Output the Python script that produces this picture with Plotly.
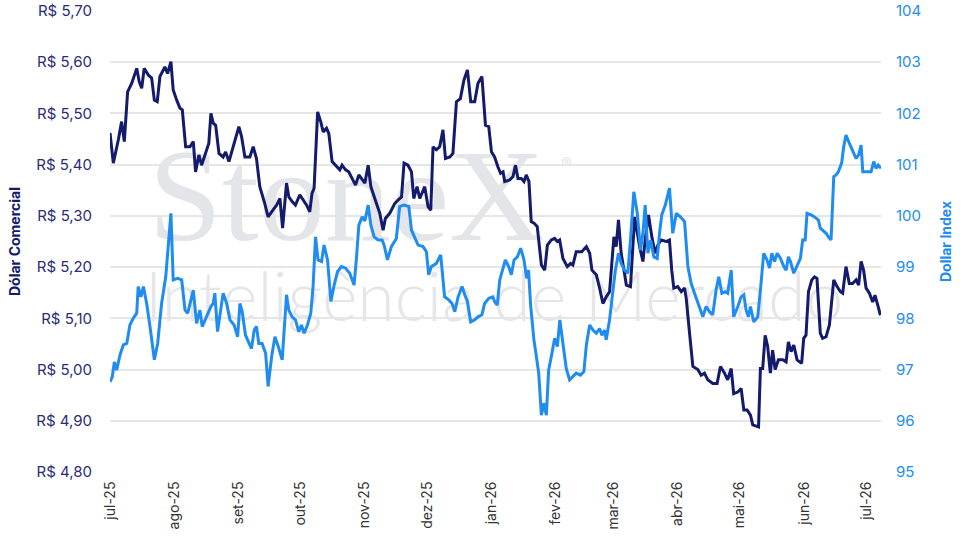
import pandas as pd
import plotly.graph_objects as go

# ---------------- data ----------------
START = "2025-07-01"

# Dólar Comercial (R$) — days since 1 Jul 2025, value
dc_days = [0, 1.6, 4.0, 5.6, 6.9, 8.5, 10.5, 12.9, 14.1, 15.3, 16.5, 18.5, 20.1, 21.4, 22.8, 24.1, 26.5, 27.8,
           29.4, 30.5, 32.2, 33.8, 34.9, 36.5, 38.6, 40.2, 41.3, 42.9, 44.2, 46.6, 47.7, 48.7, 49.8, 51.0, 52.6,
           54.6, 55.8, 57.4, 59.5, 62.2, 63.5, 65.1, 67.5, 69.1, 70.7, 72.3, 74.7, 76.3, 78.0, 80.4, 82.0, 83.3,
           85.2, 86.3, 87.9, 89.5, 91.6, 93.2, 94.9, 96.4, 97.5, 98.5, 100.2, 101.7, 102.9, 104.5, 105.6, 107.2,
           109.3, 110.9, 112.0, 113.7, 115.2, 117.3, 118.5, 120.1, 122.1, 123.0, 124.6, 125.9, 127.8, 130.2,
           131.8, 132.9, 135.0, 137.4, 139.0, 140.7, 141.9, 143.8, 145.5, 146.6, 148.2, 149.5, 151.9, 153.5,
           154.8, 155.9, 157.5, 159.1, 160.7, 161.9, 164.0, 165.5, 167.2, 169.1, 170.8, 172.5, 174.1, 176.0,
           177.6, 179.5, 181.2, 182.8, 184.1, 185.6, 187.2, 188.5, 189.7, 190.5, 192.9, 194.5, 195.7, 196.9,
           198.5, 199.8, 200.9, 202.2, 203.3, 204.9, 206.2, 208.2, 209.8, 211.1, 213.0, 214.6, 215.9, 217.0,
           218.6, 220.7, 222.3, 223.4, 225.0, 227.7, 229.9, 231.5, 232.6, 234.7, 236.3, 237.9, 239.5, 241.1,
           243.2, 244.3, 245.4, 246.7, 248.3, 249.2, 251.2, 253.2, 255.6, 257.2, 258.3, 259.9, 261.5, 263.1,
           264.4, 266.0, 268.4, 270.0, 271.1, 272.1, 274.0, 275.7, 277.3, 278.1, 279.7, 281.3, 283.7, 285.3,
           286.9, 288.5, 290.9, 293.0, 294.6, 296.6, 298.1, 299.8, 301.0, 303.0, 304.6, 305.9, 307.5, 309.1,
           310.2, 313.0, 313.9, 315.0, 316.2, 317.4, 318.7, 319.8, 321.0, 322.6, 324.7, 326.3, 327.4, 328.7,
           330.0, 331.6, 333.8, 334.8, 335.9, 337.1, 338.7, 340.0, 341.2, 342.8, 343.9, 345.6, 347.2, 349.3,
           350.9, 352.5, 353.6, 355.2, 356.8, 358.4, 360.1, 361.3, 362.5, 363.7, 364.9, 366.5, 368.1, 369.2,
           370.8, 371.8]
dc_vals = [5.462, 5.403, 5.448, 5.484, 5.445, 5.542, 5.559, 5.588, 5.562, 5.549, 5.588, 5.575, 5.569, 5.526, 5.523,
           5.572, 5.591, 5.578, 5.601, 5.546, 5.526, 5.510, 5.507, 5.435, 5.435, 5.445, 5.386, 5.419, 5.399, 5.429,
           5.442, 5.500, 5.481, 5.477, 5.422, 5.415, 5.425, 5.406, 5.438, 5.474, 5.455, 5.415, 5.415, 5.435, 5.412,
           5.357, 5.324, 5.298, 5.308, 5.321, 5.334, 5.276, 5.364, 5.337, 5.328, 5.321, 5.341, 5.331, 5.321, 5.308,
           5.344, 5.354, 5.503, 5.484, 5.464, 5.471, 5.461, 5.406, 5.396, 5.390, 5.399, 5.390, 5.386, 5.370, 5.360,
           5.380, 5.370, 5.364, 5.399, 5.357, 5.334, 5.305, 5.272, 5.295, 5.305, 5.324, 5.331, 5.337, 5.403, 5.399,
           5.386, 5.334, 5.357, 5.334, 5.357, 5.318, 5.311, 5.435, 5.429, 5.435, 5.468, 5.412, 5.415, 5.422, 5.523,
           5.529, 5.565, 5.585, 5.523, 5.523, 5.559, 5.572, 5.477, 5.474, 5.425, 5.415, 5.396, 5.383, 5.386, 5.367,
           5.370, 5.377, 5.399, 5.373, 5.373, 5.367, 5.380, 5.367, 5.289, 5.285, 5.279, 5.204, 5.194, 5.243, 5.253,
           5.256, 5.250, 5.253, 5.217, 5.201, 5.207, 5.204, 5.230, 5.230, 5.240, 5.227, 5.194, 5.185, 5.159, 5.129,
           5.142, 5.152, 5.259, 5.240, 5.292, 5.227, 5.188, 5.165, 5.162, 5.298, 5.240, 5.211, 5.253, 5.302, 5.259,
           5.227, 5.243, 5.253, 5.250, 5.253, 5.194, 5.159, 5.162, 5.152, 5.159, 5.139, 5.071, 5.006, 5.000, 4.989,
           4.993, 4.980, 4.973, 4.973, 5.006, 4.993, 4.980, 5.002, 4.953, 4.956, 4.963, 4.921, 4.921, 4.911, 4.892,
           4.888, 5.002, 5.002, 5.067, 5.045, 4.993, 5.038, 5.000, 5.019, 5.019, 5.015, 5.054, 5.035, 5.048, 5.019,
           5.012, 5.061, 5.067, 5.152, 5.175, 5.181, 5.178, 5.071, 5.061, 5.064, 5.087, 5.175, 5.162, 5.152, 5.149,
           5.201, 5.168, 5.168, 5.175, 5.165, 5.211, 5.194, 5.159, 5.149, 5.132, 5.145, 5.122, 5.106]

# Dollar Index — days since 1 Jul 2025, value
dx_days = [0, 1.1, 2.1, 3.2, 4.8, 6.4, 8.1, 9.6, 11.2, 12.9, 13.6, 14.9, 16.1, 17.7, 19.3, 21.4, 23.0, 24.9, 26.9,
           28.5, 29.4, 30.5, 32.6, 34.6, 36.2, 37.5, 39.1, 40.2, 41.8, 43.4, 44.5, 46.6, 48.7, 49.8, 50.6, 51.9,
           53.5, 54.6, 56.3, 57.9, 59.9, 61.6, 62.7, 63.8, 65.4, 67.0, 68.3, 69.6, 70.7, 71.8, 73.4, 75.1, 76.3,
           78.0, 79.6, 81.2, 83.1, 85.2, 86.3, 87.9, 89.5, 91.1, 92.4, 93.7, 95.3, 96.9, 98.0, 99.2, 100.4, 102.1,
           103.3, 105.0, 106.6, 108.2, 109.8, 111.7, 113.7, 115.7, 117.8, 119.0, 120.1, 121.7, 123.0, 124.6,
           125.9, 127.5, 129.4, 131.3, 132.3, 133.9, 135.8, 138.2, 139.8, 141.9, 144.2, 145.5, 147.4, 148.7,
           151.1, 152.7, 153.8, 155.1, 157.5, 159.6, 161.5, 163.5, 165.1, 166.4, 168.0, 169.9, 171.2, 172.5,
           174.1, 176.0, 177.6, 179.5, 180.8, 182.8, 184.8, 185.6, 186.9, 188.1, 189.7, 190.8, 192.4, 193.7,
           195.0, 196.6, 198.2, 199.8, 201.1, 202.0, 203.0, 204.6, 205.8, 206.9, 208.2, 209.4, 210.6, 211.7,
           213.3, 214.6, 215.9, 217.1, 218.6, 220.2, 221.8, 223.4, 225.0, 227.1, 228.7, 229.9, 231.5, 233.1,
           234.7, 236.3, 237.4, 238.7, 239.5, 241.1, 242.7, 243.9, 245.4, 246.7, 248.3, 249.9, 251.2, 252.8,
           254.5, 256.0, 257.2, 258.3, 259.6, 260.9, 262.5, 264.1, 265.2, 266.3, 268.0, 270.0, 271.6, 273.3,
           275.3, 277.3, 278.9, 280.5, 282.1, 284.0, 286.1, 287.7, 289.3, 290.9, 292.5, 293.8, 295.3, 296.9,
           298.1, 299.8, 301.0, 303.0, 304.6, 305.9, 307.0, 308.1, 309.1, 310.7, 312.6, 313.9, 315.5, 317.1,
           318.3, 319.4, 320.7, 322.0, 323.6, 325.2, 326.3, 327.4, 328.4, 330.0, 331.6, 333.2, 334.3, 335.5,
           336.4, 338.4, 340.0, 341.9, 342.8, 343.9, 345.6, 346.7, 348.0, 349.3, 350.4, 351.5, 353.1, 354.1,
           355.2, 356.8, 358.4, 360.1, 361.3, 362.5, 363.3, 365.4, 367.3, 368.6, 369.7, 370.8, 372.1]
dx_vals = [96.76, 96.86, 97.15, 96.99, 97.28, 97.48, 97.51, 97.87, 98.00, 98.10, 98.62, 98.42, 98.62, 98.29, 97.84,
           97.19, 97.51, 98.29, 98.81, 99.66, 100.05, 98.75, 98.78, 98.75, 98.16, 98.10, 98.36, 98.55, 97.90, 98.16,
           97.84, 98.03, 98.23, 98.29, 98.49, 97.74, 98.23, 98.49, 98.29, 97.97, 97.87, 97.64, 98.29, 98.13, 97.67,
           97.51, 97.41, 97.77, 97.84, 97.51, 97.51, 97.32, 96.67, 97.25, 97.64, 97.45, 97.19, 98.46, 98.16, 98.03,
           97.97, 97.74, 97.87, 97.71, 97.87, 98.10, 98.62, 99.59, 99.14, 99.11, 99.43, 99.14, 98.33, 98.65, 98.91,
           99.01, 98.98, 98.88, 98.65, 99.20, 99.82, 99.98, 99.90, 100.21, 99.82, 99.59, 99.53, 99.53, 99.43, 99.14,
           99.40, 99.56, 100.18, 100.21, 100.18, 99.72, 99.56, 99.43, 99.40, 99.30, 98.85, 99.01, 99.07, 99.24,
           98.42, 98.36, 98.29, 98.13, 98.42, 98.62, 98.46, 98.33, 97.93, 97.97, 98.03, 98.07, 98.29, 98.39, 98.42,
           98.33, 98.26, 98.75, 98.98, 99.14, 99.01, 98.85, 99.14, 99.20, 99.37, 99.14, 98.78, 98.94, 98.26, 97.58,
           97.25, 96.93, 96.11, 96.34, 96.11, 96.99, 97.32, 97.61, 97.45, 97.97, 97.51, 97.02, 96.80, 96.86, 96.93,
           96.89, 96.96, 97.48, 97.87, 97.77, 97.71, 97.80, 97.67, 97.77, 97.58, 97.97, 98.49, 98.94, 99.27, 99.07,
           98.94, 98.88, 99.53, 100.47, 100.05, 99.33, 99.66, 100.21, 99.27, 99.53, 99.20, 99.17, 99.66, 100.02,
           100.21, 100.54, 99.66, 100.05, 99.98, 99.89, 99.01, 98.68, 98.49, 98.29, 98.03, 98.23, 98.13, 98.07,
           98.55, 98.81, 98.49, 98.52, 98.49, 98.94, 98.03, 98.23, 98.42, 98.46, 98.16, 98.03, 98.23, 97.93, 98.03,
           98.55, 99.27, 99.14, 98.98, 99.27, 99.11, 99.27, 99.17, 99.01, 98.94, 99.20, 99.11, 98.88, 99.01, 99.17,
           99.53, 99.53, 100.05, 100.02, 99.98, 99.92, 99.76, 99.72, 99.66, 99.59, 99.53, 100.77, 100.80, 100.86,
           101.03, 101.35, 101.58, 101.42, 101.29, 101.12, 101.19, 101.38, 100.86, 100.86, 100.86, 101.06, 100.93,
           100.99, 100.93]

month_ticks = ["2025-07-01", "2025-08-01", "2025-09-01", "2025-10-01", "2025-11-01", "2025-12-01", "2026-01-01",
               "2026-02-01", "2026-03-01", "2026-04-01", "2026-05-01", "2026-06-01", "2026-07-01"]
month_labels = ["jul-25", "ago-25", "set-25", "out-25", "nov-25", "dez-25", "jan-26",
                "fev-26", "mar-26", "abr-26", "mai-26", "jun-26", "jul-26"]

left_range = [4.80, 5.70]
right_range = [95, 104]

# ---------------- build ----------------
t0 = pd.Timestamp(START)
dc_dates = [t0 + pd.Timedelta(days=d) for d in dc_days]
dx_dates = [t0 + pd.Timedelta(days=d) for d in dx_days]
x_start = min(dc_dates[0], dx_dates[0])
x_end = max(dc_dates[-1], dx_dates[-1])

NAVY = "#141a6c"
BLUE = "#1e8cf0"
FONT = "Inter, Lato, Arial, sans-serif"


def fx(frac):
    return x_start + (x_end - x_start) * frac


def fy(frac):
    return left_range[0] + (left_range[1] - left_range[0]) * frac


fig = go.Figure()

# watermark (drawn first so the lines sit on top)
fig.add_trace(go.Scatter(
    x=[fx(0.05)], y=[fy(0.575)], mode="text", text=["StoneX"], textposition="middle right",
    textfont=dict(family="Liberation Serif, DejaVu Serif, serif", size=132, color="#e4e5e8"),
    hoverinfo="skip", showlegend=False, cliponaxis=False))
fig.add_trace(go.Scatter(
    x=[fx(0.585)], y=[fy(0.665)], mode="text", text=["®"], textposition="middle right",
    textfont=dict(family=FONT, size=16, color="#e4e5e8"),
    hoverinfo="skip", showlegend=False, cliponaxis=False))
fig.add_trace(go.Scatter(
    x=[fx(0.045)], y=[fy(0.365)], mode="text", text=["Inteligência de Mercado"], textposition="middle right",
    textfont=dict(family="Lato, sans-serif", size=68, color="#e6e6e8", weight=300),
    hoverinfo="skip", showlegend=False, cliponaxis=False))

fig.add_trace(go.Scatter(x=dc_dates, y=dc_vals, mode="lines", name="Dólar Comercial",
                         line=dict(color=NAVY, width=3), yaxis="y"))
fig.add_trace(go.Scatter(x=dx_dates, y=dx_vals, mode="lines", name="Dollar Index",
                         line=dict(color=BLUE, width=3), yaxis="y2"))

fig.update_layout(
    width=963, height=550,
    margin=dict(l=110, r=82, t=11, b=78, autoexpand=False),
    paper_bgcolor="white", plot_bgcolor="white",
    separators=",.",
    showlegend=False,
    font=dict(family=FONT),
    xaxis=dict(
        type="date", range=[x_start, x_end], automargin=False,
        tickvals=month_ticks, ticktext=month_labels, tickangle=-90,
        tickfont=dict(size=14, color="#333333", family=FONT),
        showgrid=False, zeroline=False, showline=False,
        ticks="outside", ticklen=3, tickcolor="rgba(0,0,0,0)",
    ),
    yaxis=dict(
        range=left_range, dtick=0.1, tick0=4.8, tickformat=".2f", tickprefix="R$ ", automargin=False,
        tickfont=dict(size=15, color="#2a2c7a", family=FONT),
        showgrid=True, gridcolor="#e6e6e6", gridwidth=1.5, zeroline=False, showline=False,
        ticks="outside", ticklen=14, tickcolor="rgba(0,0,0,0)",
        title=dict(text="Dólar Comercial", font=dict(size=14, color=NAVY, family=FONT, weight=700),
                   standoff=12),
    ),
    yaxis2=dict(
        range=right_range, dtick=1, overlaying="y", side="right", automargin=False,
        tickfont=dict(size=15, color=BLUE, family=FONT),
        showgrid=False, zeroline=False, showline=False,
        ticks="outside", ticklen=11, tickcolor="rgba(0,0,0,0)",
        title=dict(text="Dollar Index", font=dict(size=14, color=BLUE, family=FONT, weight=700),
                   standoff=20),
    ),
)

fig.write_html("out.html")
